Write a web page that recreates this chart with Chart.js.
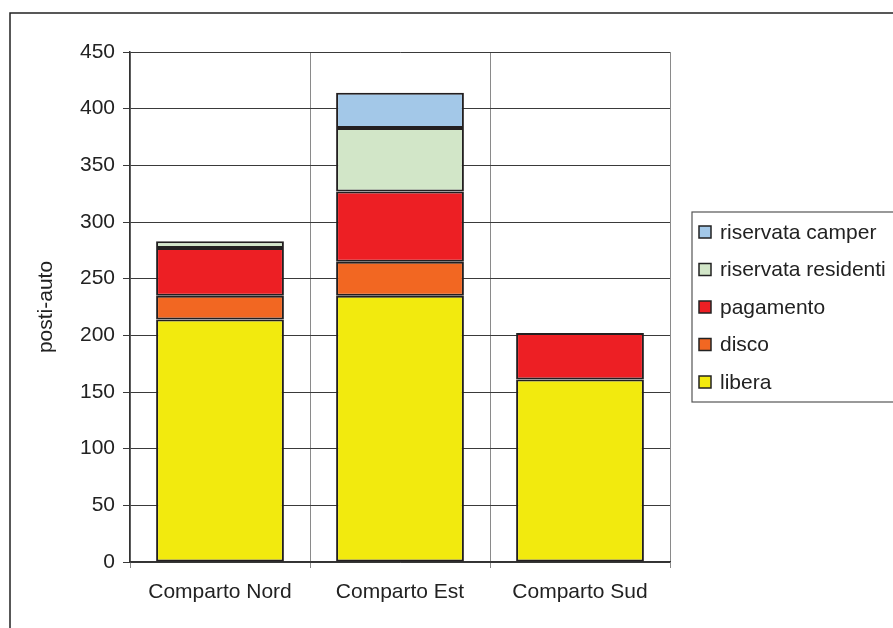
<!DOCTYPE html>
<html lang="it">
<head>
  <meta charset="UTF-8">
  <title>Posti-auto per comparto</title>
  <script src="https://cdn.jsdelivr.net/npm/chart.js"></script>
  <style>
    html, body {
      margin: 0;
      padding: 0;
      background: #fff;
      overflow: hidden;
    }
    #wrap {
      width: 893px;
      height: 628px;
    }
  </style>
</head>
<body>
  <div id="wrap"><canvas id="grafico"></canvas></div>

  <script>
    // dati (null = segmento assente)
    var comparti = ['Comparto Nord', 'Comparto Est', 'Comparto Sud'];
    var libera = [214, 235, 161];
    var disco = [21, 30, null];
    var pagamento = [42, 62, 41];
    var residenti = [6, 56, null];
    var camper = [null, 31, null];
    var yTicks = [0, 50, 100, 150, 200, 250, 300, 350, 400, 450];

    var font = "'Liberation Sans', Arial, sans-serif";
    var bordo = '#231f20';

    // legenda con cornice, come nell'originale (ordine inverso)
    var legendaPlugin = {
      id: 'legenda',
      afterDraw: function(chart) {
        var ctx = chart.ctx;
        ctx.save();
        // cornice esterna
        ctx.strokeStyle = '#222';
        ctx.lineWidth = 1.5;
        ctx.beginPath();
        ctx.moveTo(10, 640);
        ctx.lineTo(10, 13);
        ctx.lineTo(900, 13);
        ctx.stroke();

        // riquadro legenda
        ctx.strokeStyle = '#555';
        ctx.lineWidth = 1.2;
        ctx.strokeRect(692, 212, 240, 190);

        var ds = chart.data.datasets.slice().reverse();
        ctx.font = '21px ' + font;
        ctx.textBaseline = 'middle';
        ctx.textAlign = 'left';
        for (var i = 0; i < ds.length; i++) {
          var y = 232 + i * 37.5;
          ctx.fillStyle = ds[i].backgroundColor;
          ctx.fillRect(699, y - 6, 12, 12);
          ctx.strokeStyle = '#222';
          ctx.lineWidth = 1.5;
          ctx.strokeRect(699, y - 6, 12, 12);
          ctx.fillStyle = '#222';
          ctx.fillText(ds[i].label, 720, y + 1);
        }
        ctx.restore();
      }
    };

    function serie(label, data, colore) {
      return {
        label: label,
        data: data,
        backgroundColor: colore,
        borderColor: bordo,
        borderWidth: 2,
        borderSkipped: false,
        categoryPercentage: 1,
        barPercentage: 0.71
      };
    }

    var ctx = document.getElementById('grafico').getContext('2d');
    new Chart(ctx, {
      type: 'bar',
      data: {
        labels: comparti,
        datasets: [
          serie('libera', libera, '#f2ea0e'),
          serie('disco', disco, '#f26722'),
          serie('pagamento', pagamento, '#ed1f24'),
          serie('riservata residenti', residenti, '#d2e6c8'),
          serie('riservata camper', camper, '#a3c8e8')
        ]
      },
      options: {
        responsive: true,
        maintainAspectRatio: false,
        animation: false,
        layout: {
          padding: { top: 52, right: 223, bottom: 0, left: 0 }
        },
        plugins: {
          legend: { display: false },
          tooltip: { enabled: false }
        },
        scales: {
          x: {
            stacked: true,
            grid: {
              offset: true,
              color: '#8a8a8a',
              lineWidth: 1,
              tickLength: 6
            },
            border: { color: '#333', width: 1.5 },
            ticks: {
              color: '#222',
              padding: 12,
              font: { family: font, size: 21 }
            },
            afterFit: function(scale) { scale.height = 66; }
          },
          y: {
            stacked: true,
            min: 0,
            max: 450,
            afterBuildTicks: function(scale) {
              scale.ticks = yTicks.map(function(v) { return { value: v }; });
            },
            grid: {
              color: '#3a3a3a',
              lineWidth: 1,
              tickLength: 7
            },
            border: { color: '#333', width: 1.5 },
            ticks: {
              color: '#222',
              padding: 8,
              font: { family: font, size: 21 }
            },
            title: {
              display: true,
              text: 'posti-auto',
              color: '#222',
              padding: { top: 34, bottom: 0 },
              font: { family: font, size: 21 }
            },
            afterFit: function(scale) { scale.width = 130; }
          }
        }
      },
      plugins: [legendaPlugin]
    });
  </script>
</body>
</html>
